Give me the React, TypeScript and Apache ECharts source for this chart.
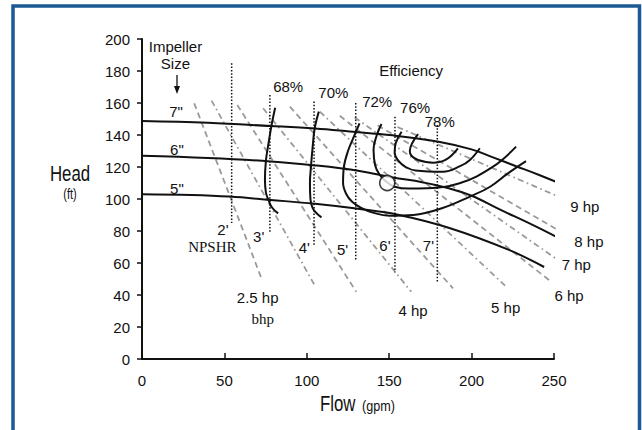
import React, { useEffect, useRef } from "react";
import * as echarts from "echarts";

// ---- axis ----
const xMin = 0, xMax = 250, xStep = 50;
const yMin = 0, yMax = 200, yStep = 20;

// ---- impeller head curves [flow, head] ----
const impeller7 = [[0, 148.7], [40, 147.6], [78, 145.6], [105, 144], [126, 142.2], [152, 139.8], [180, 135.8], [200, 131], [213, 126], [227, 120.5], [241, 115], [254, 109.5]];
const impeller6 = [[0, 127], [40, 125.6], [78, 123.5], [105, 121], [132, 117.5], [152, 113.5], [170, 110.5], [185, 107], [200, 102], [217, 93.5], [237, 83.8], [251.3, 76.4]];
const impeller5 = [[0, 103], [30, 102.5], [53, 101.5], [78, 99.4], [105, 97], [130, 94], [156, 90], [187, 81.7], [223, 68], [244, 57.5]];

// ---- efficiency contours ----
const eff68 = [[80.8, 157], [78.6, 146], [76.5, 133], [75.2, 124], [74.6, 112], [75.2, 104], [76.6, 99.8], [79, 94.5], [82.6, 91]];
const eff70 = [[107.3, 154.6], [104.8, 144.2], [103.5, 132], [102.6, 121], [101.9, 110], [102.2, 100], [103.5, 94.5], [106, 91], [108.9, 88.5]];
const eff72 = [[132, 147.3], [129, 140], [125, 130], [122.5, 120], [122, 110], [124, 103], [127.5, 98.3], [133, 94.5], [140, 91.5], [150, 89.5], [164.7, 90], [182, 94.2], [199, 101.5], [211, 107.5], [222, 116], [233, 123.7]];
const eff74 = [[145.3, 146.9], [142.5, 140], [140.5, 131], [141.5, 121], [144, 115.5], [148, 111], [153.3, 107.7], [162, 106.5], [172.5, 106.7], [192.7, 109.8], [213, 120.2], [227, 132.7]];
const eff76 = [[157.5, 142], [154, 135], [153.3, 129], [155.5, 124], [160, 120], [166, 117.8], [182.6, 117], [193, 120.5], [199, 124.4], [205, 131.7]];
const eff78 = [[167.5, 140.6], [164, 135], [162.5, 130], [163.5, 127], [167.5, 124.4], [176.6, 122.7], [184.7, 124.8], [191.7, 131.7]];

// ---- NPSHR vertical lines ----
const npshrX = [54.4, 77.6, 104.4, 129.7, 153.5, 179.2];
const npshrTop = [184.8, 165, 161, 160, 151.4, 146.3];
const npshrBottom = [85, 79, 71, 61, 54, 47.3];

// ---- bhp lines [x1, y1, x2, y2] ----
const bhpLines = [
  [31.7, 159.8, 72.5, 50.4],
  [42.2, 161.5, 104.8, 46],
  [57.8, 158.8, 130, 42],
  [73.5, 156.7, 163.4, 42],
  [89.7, 157.7, 188.7, 44.2],
  [107.9, 154.6, 221, 45.2],
  [120, 152, 248.3, 48.3],
  [129, 151, 252.3, 61.9],
  [143, 146, 259.4, 76.4],
  [155, 145, 257.4, 99.4],
];

// ---- operating point ----
const dutyPoint = [148.8, 110];

// ---- text labels [text, flow, head] ----
const effLabels = [["68%", 89, 170], ["70%", 116.4, 166.4], ["72%", 143, 160.8], ["76%", 166, 157], ["78%", 181, 148], ["Efficiency", 163.6, 180]];
const impLabels = [['7"', 21, 154.6], ['6"', 21.5, 130.6], ['5"', 21.5, 106], ["Impeller", 20.6, 195], ["Size", 20.6, 184.4]];
const npshrLabels = [["2'", 49.4, 80.6], ["3'", 71.1, 76], ["4'", 98.8, 69.2], ["5'", 122, 68], ["6'", 147.7, 70.8], ["7'", 174.1, 70.6]];
const hpLabels = [["2.5 hp", 70.5, 38], ["4 hp", 164.8, 30], ["5 hp", 221, 31.7], ["6 hp", 259.4, 39.4], ["7 hp", 263.8, 58.75], ["8 hp", 271.5, 72.9], ["9 hp", 269, 94.8]];
const serifLabels = [["NPSHR", 43, 70], ["bhp", 73.5, 24.4]];

const SANS = "'Liberation Sans', Arial, Helvetica, sans-serif";
const SERIF = "'Liberation Serif', 'Times New Roman', serif";
const INK = "#111111";

function curve(data: number[][], width = 2) {
  return {
    type: "line",
    data,
    smooth: 0.4,
    showSymbol: false,
    symbol: "none",
    clip: false,
    silent: true,
    z: 3,
    lineStyle: { color: INK, width },
  };
}

function labelSeries(items: any[], font: string, size: number) {
  return {
    type: "scatter",
    symbolSize: 1,
    clip: false,
    silent: true,
    z: 10,
    itemStyle: { color: "rgba(0,0,0,0)" },
    label: {
      show: true,
      position: [0, 0],
      align: "center",
      verticalAlign: "middle",
      formatter: "{b}",
      color: INK,
      opacity: 1,
      textBorderWidth: 0,
      fontFamily: font,
      fontSize: size,
    },
    data: items.map((d) => ({ name: d[0], value: [d[1], d[2]] })),
  };
}

export default function App() {
  const ref = useRef<HTMLDivElement>(null);
  useEffect(() => {
    if (!ref.current) return;
    const chart = echarts.init(ref.current, null, { renderer: "svg" });

    const bhpSeries = bhpLines.map((l, i) => ({
      type: "line",
      data: [[l[0], l[1]], [l[2], l[3]]],
      showSymbol: false,
      symbol: "none",
      clip: false,
      silent: true,
      z: 2,
      lineStyle: { color: "#9a9a9a", width: 1.8, type: i % 2 === 0 ? [6, 4] : [6, 3.5, 1.6, 3.5] },
    }));

    const npshrSeries = npshrX.map((x, i) => ({
      type: "line",
      data: [[x, npshrTop[i]], [x, npshrBottom[i]]],
      showSymbol: false,
      symbol: "none",
      clip: false,
      silent: true,
      z: 2,
      lineStyle: { color: INK, width: 1.5, type: [1.5, 1.8] },
    }));

    const option: any = {
      animation: false,
      grid: { left: 142, right: 88, top: 39, bottom: 71 },
      xAxis: {
        type: "value",
        min: xMin,
        max: xMax,
        interval: xStep,
        axisLine: { show: true, lineStyle: { color: INK, width: 2 } },
        axisTick: { show: true, inside: true, length: 6, lineStyle: { color: INK, width: 1.5 } },
        axisLabel: { fontSize: 15, color: INK, margin: 14, fontFamily: SANS },
        splitLine: { show: false },
      },
      yAxis: {
        type: "value",
        min: yMin,
        max: yMax,
        interval: yStep,
        axisLine: { show: true, lineStyle: { color: INK, width: 2 } },
        axisTick: { show: true, inside: false, length: 5, lineStyle: { color: INK, width: 1.5 } },
        axisLabel: { fontSize: 15, color: INK, margin: 12, fontFamily: SANS, padding: [6, 0, 0, 0] },
        splitLine: { show: false },
      },
      graphic: [
        {
          type: "rect",
          shape: { x: 13, y: 6, width: 626.5, height: 460 },
          style: { fill: "none", stroke: "#1d5a95", lineWidth: 3.5 },
          silent: true,
        },
        { type: "line", shape: { x1: 177, y1: 75, x2: 177, y2: 89 }, style: { stroke: INK, lineWidth: 1.3 } },
        { type: "polygon", shape: { points: [[174, 86], [180, 86], [177, 94]] }, style: { fill: INK } },
        { type: "text", x: 70, y: 173, scaleX: 0.8, scaleY: 1.05, style: { text: "Head", fontSize: 21, fontFamily: SANS, fill: INK, align: "center", verticalAlign: "middle" } },
        { type: "text", x: 70, y: 194, scaleX: 0.85, scaleY: 1.1, style: { text: "(ft)", fontSize: 13, fontFamily: SANS, fill: INK, align: "center", verticalAlign: "middle" } },
        { type: "text", x: 320, y: 403, scaleX: 0.8, scaleY: 1.05, style: { text: "Flow", fontSize: 21, fontFamily: SANS, fill: INK, align: "left", verticalAlign: "middle" } },
        { type: "text", x: 362, y: 405.5, scaleX: 0.9, scaleY: 1.1, style: { text: "(gpm)", fontSize: 14, fontFamily: SANS, fill: INK, align: "left", verticalAlign: "middle" } },
      ],
      series: [
        ...bhpSeries,
        ...npshrSeries,
        curve(impeller7),
        curve(impeller6),
        curve(impeller5),
        curve(eff68),
        curve(eff70),
        curve(eff72),
        curve(eff74),
        curve(eff76),
        curve(eff78),
        {
          type: "scatter",
          data: [dutyPoint],
          symbolSize: 15,
          silent: true,
          z: 6,
          itemStyle: { color: "#ffffff", borderColor: INK, borderWidth: 1.6 },
        },
        labelSeries(effLabels, SANS, 15),
        labelSeries(impLabels, SANS, 15),
        labelSeries(npshrLabels, SANS, 15),
        labelSeries(hpLabels, SANS, 15),
        labelSeries(serifLabels, SERIF, 15),
      ],
    };
    chart.setOption(option);
    return () => chart.dispose();
  }, []);
  return (
    <div
      ref={ref}
      style={{ position: "fixed", left: 0, top: 0, width: 642, height: 430, background: "#ffffff" }}
    />
  );
}
